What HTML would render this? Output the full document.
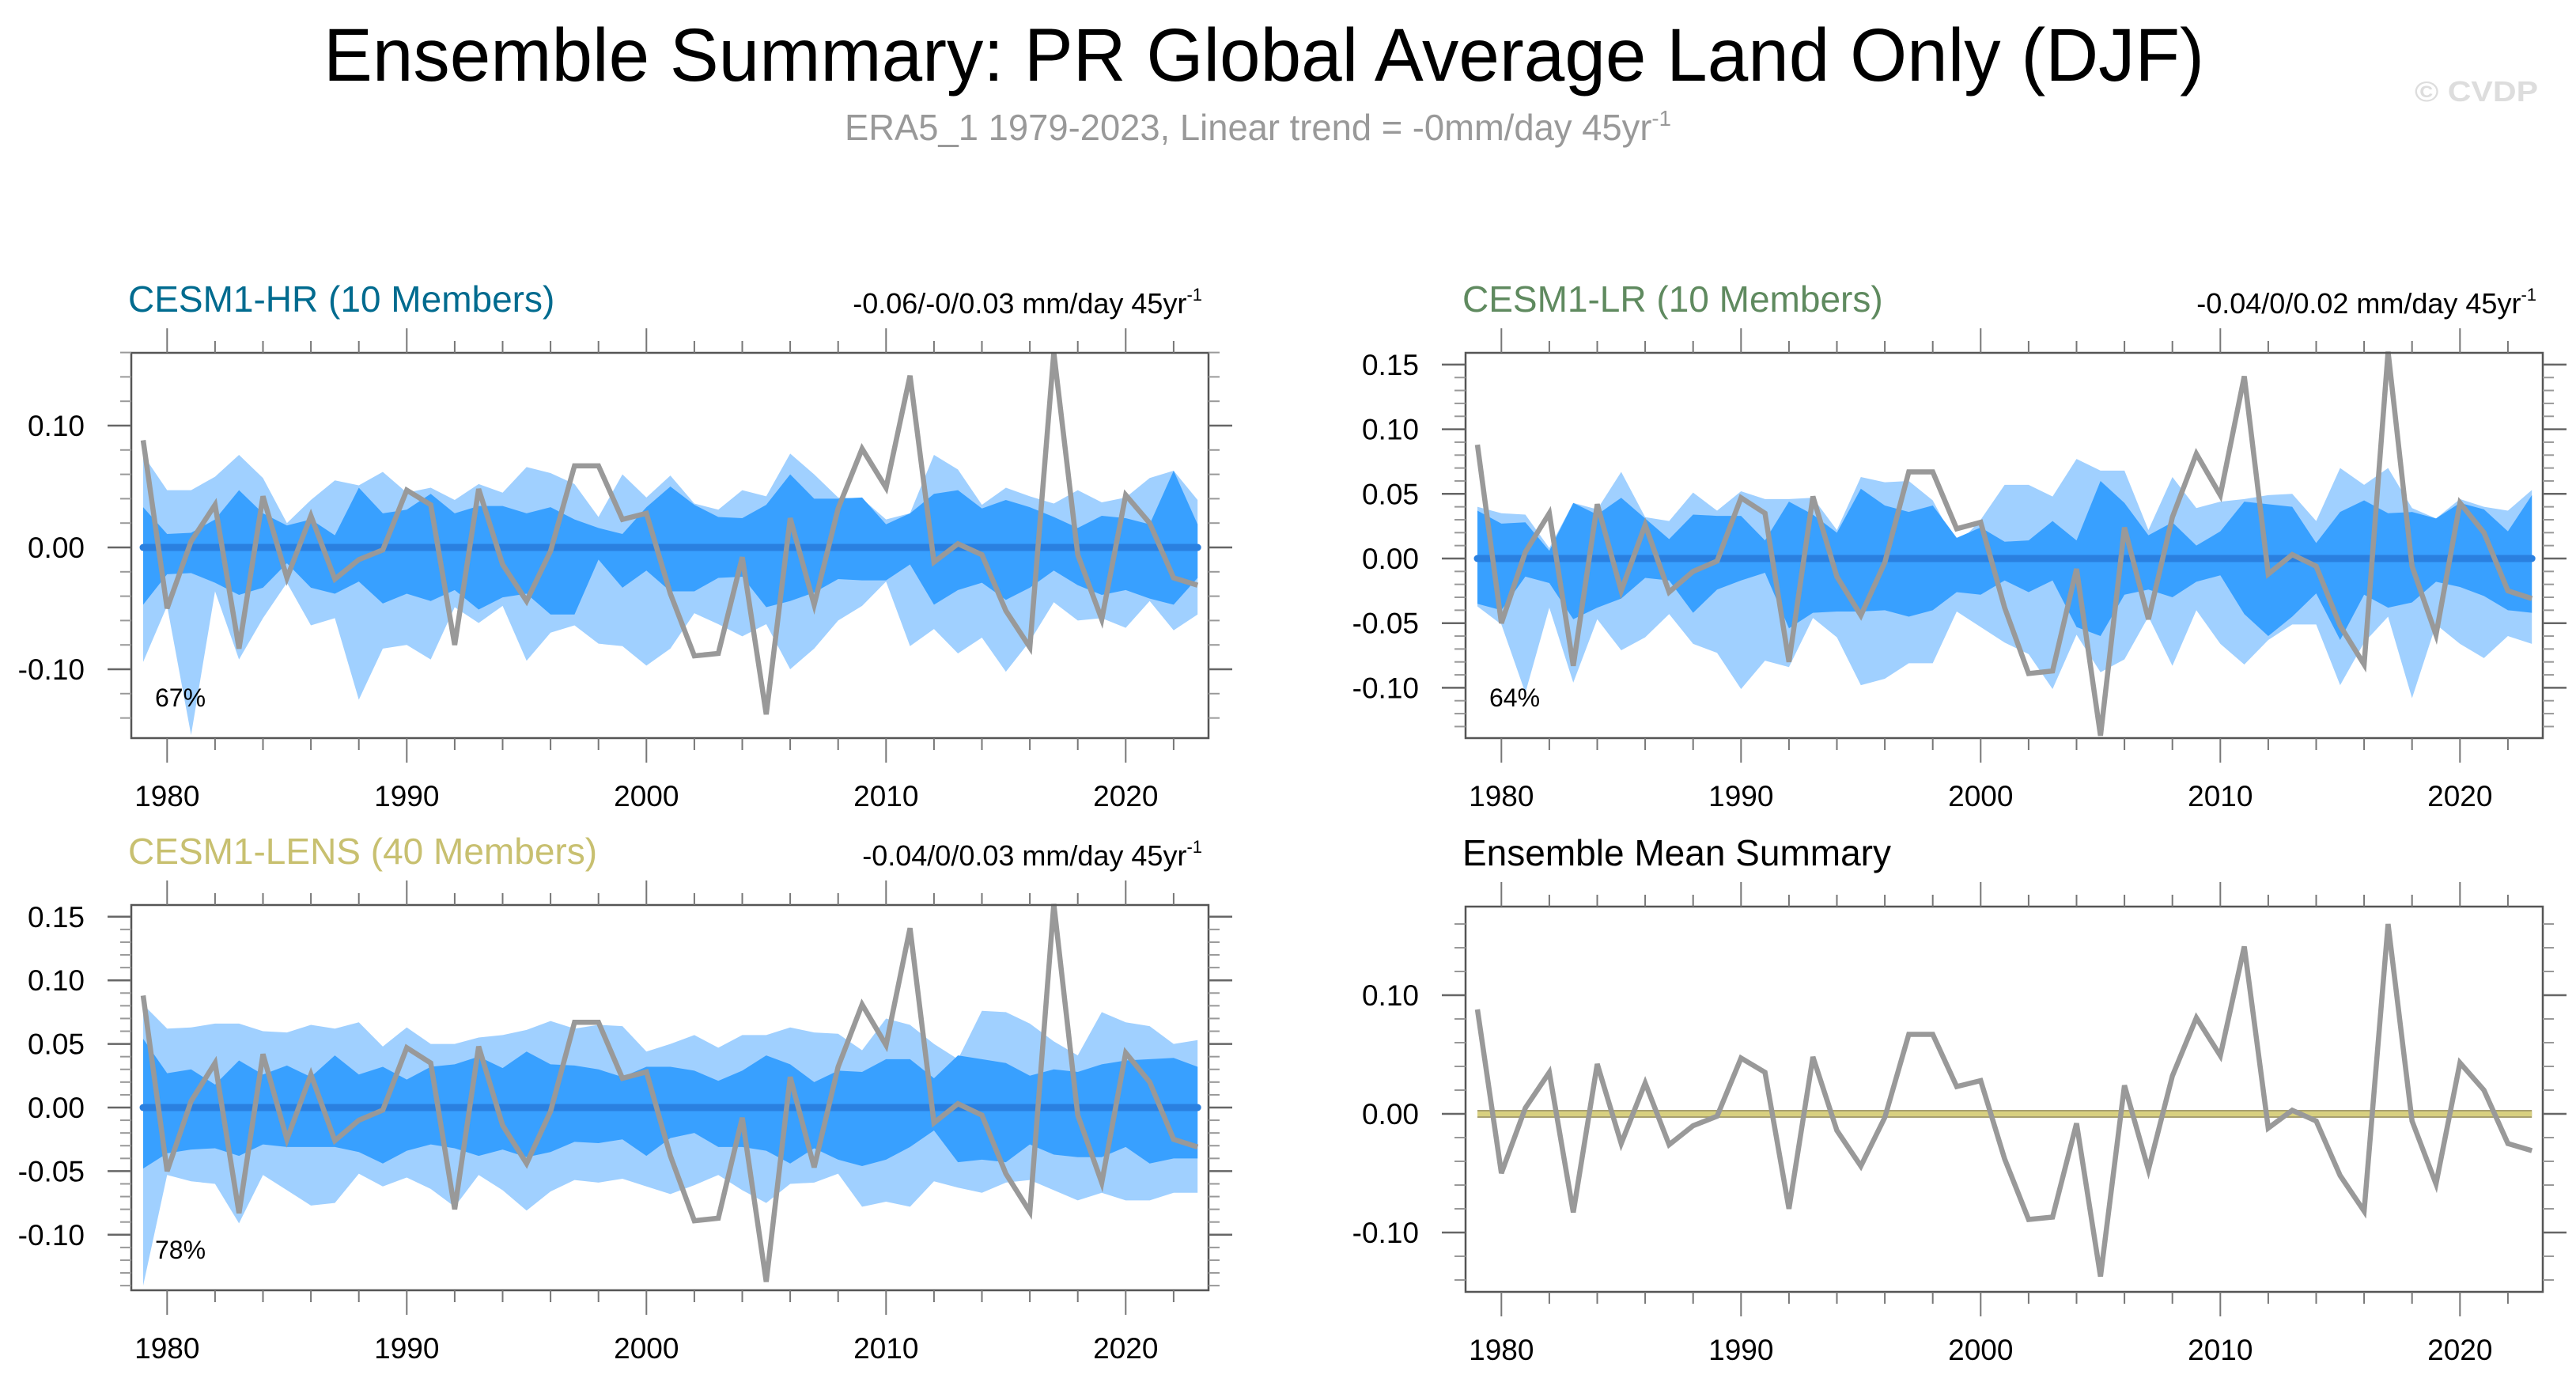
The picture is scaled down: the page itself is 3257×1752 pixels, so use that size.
<!DOCTYPE html>
<html><head><meta charset="utf-8"><style>
html,body{margin:0;padding:0;background:#fff;}
svg{display:block;font-family:"Liberation Sans",sans-serif;}
</style></head><body>
<svg id="chart" width="3257" height="1752" viewBox="0 0 3257 1752" xmlns="http://www.w3.org/2000/svg">
<rect width="3257" height="1752" fill="#fff"/>
<text x="1598" y="102" font-size="95" text-anchor="middle" textLength="2378" lengthAdjust="spacingAndGlyphs">Ensemble Summary: PR Global Average Land Only (DJF)</text>
<text x="1068" y="177" font-size="46" fill="#999" textLength="1045" lengthAdjust="spacingAndGlyphs">ERA5_1 1979-2023, Linear trend = -0mm/day 45yr<tspan dy="-18" font-size="28">-1</tspan></text>
<text x="3053" y="128" font-size="36" font-weight="bold" fill="#ddd" textLength="156" lengthAdjust="spacingAndGlyphs">© CVDP</text>
<g id="panels"></g>
</svg>
<script>
const years = [];
for (let y = 1979; y <= 2023; y++) years.push(y);
const obs = [0.088,-0.050,0.005,0.035,-0.083,0.042,-0.025,0.026,-0.026,-0.010,-0.002,0.047,0.035,-0.080,0.048,-0.014,-0.044,-0.003,0.067,0.067,0.023,0.028,-0.038,-0.089,-0.087,-0.008,-0.137,0.024,-0.047,0.032,0.081,0.049,0.141,-0.012,0.003,-0.006,-0.052,-0.082,0.160,-0.006,-0.059,0.043,0.020,-0.025,-0.031];
const hrLightUp = [0.076,0.047,0.047,0.058,0.076,0.057,0.020,0.039,0.055,0.051,0.062,0.045,0.049,0.039,0.052,0.045,0.066,0.061,0.052,0.025,0.060,0.041,0.059,0.036,0.031,0.047,0.042,0.077,0.060,0.041,0.040,0.023,0.028,0.076,0.064,0.035,0.049,0.042,0.036,0.047,0.037,0.041,0.057,0.063,0.039];
const hrDarkUp = [0.033,0.011,0.012,0.023,0.047,0.028,0.018,0.023,0.010,0.049,0.028,0.031,0.044,0.028,0.034,0.034,0.028,0.033,0.023,0.016,0.011,0.033,0.050,0.035,0.025,0.024,0.035,0.060,0.040,0.040,0.041,0.019,0.028,0.044,0.047,0.032,0.039,0.033,0.025,0.016,0.026,0.024,0.019,0.063,0.019];
const hrDarkLo = [-0.047,-0.022,-0.021,-0.029,-0.039,-0.033,-0.013,-0.033,-0.038,-0.028,-0.046,-0.038,-0.044,-0.035,-0.051,-0.041,-0.038,-0.055,-0.055,-0.010,-0.033,-0.019,-0.036,-0.036,-0.025,-0.024,-0.049,-0.044,-0.037,-0.026,-0.027,-0.027,-0.014,-0.047,-0.035,-0.029,-0.043,-0.033,-0.019,-0.031,-0.039,-0.035,-0.042,-0.047,-0.025];
const hrLightLo = [-0.094,-0.048,-0.154,-0.036,-0.092,-0.058,-0.029,-0.064,-0.058,-0.125,-0.083,-0.080,-0.092,-0.049,-0.062,-0.048,-0.093,-0.070,-0.064,-0.079,-0.081,-0.097,-0.083,-0.054,-0.063,-0.073,-0.063,-0.100,-0.083,-0.060,-0.048,-0.028,-0.081,-0.067,-0.087,-0.074,-0.102,-0.077,-0.045,-0.060,-0.058,-0.066,-0.044,-0.068,-0.055];
const lrLightUp = [0.040,0.035,0.034,0.008,0.043,0.038,0.067,0.032,0.029,0.051,0.037,0.052,0.046,0.046,0.047,0.022,0.063,0.059,0.060,0.045,0.010,0.030,0.057,0.057,0.048,0.077,0.068,0.068,0.022,0.063,0.039,0.044,0.046,0.049,0.050,0.029,0.070,0.057,0.070,0.039,0.031,0.046,0.040,0.037,0.053];
const lrDarkUp = [0.037,0.027,0.028,0.006,0.043,0.034,0.047,0.031,0.015,0.034,0.033,0.033,0.014,0.044,0.034,0.020,0.054,0.041,0.036,0.041,0.016,0.024,0.013,0.014,0.029,0.014,0.060,0.043,0.018,0.028,0.010,0.021,0.044,0.042,0.040,0.012,0.036,0.045,0.035,0.036,0.031,0.043,0.038,0.021,0.049];
const lrDarkLo = [-0.035,-0.040,-0.014,-0.019,-0.047,-0.038,-0.031,-0.015,-0.017,-0.042,-0.024,-0.017,-0.011,-0.054,-0.042,-0.041,-0.041,-0.040,-0.045,-0.040,-0.026,-0.028,-0.017,-0.026,-0.017,-0.053,-0.060,-0.028,-0.024,-0.030,-0.018,-0.013,-0.043,-0.060,-0.045,-0.027,-0.063,-0.028,-0.038,-0.034,-0.018,-0.022,-0.029,-0.040,-0.042];
const lrLightLo = [-0.037,-0.051,-0.104,-0.038,-0.096,-0.047,-0.071,-0.061,-0.043,-0.066,-0.073,-0.101,-0.079,-0.084,-0.046,-0.061,-0.098,-0.093,-0.081,-0.081,-0.041,-0.053,-0.065,-0.074,-0.101,-0.059,-0.088,-0.078,-0.045,-0.083,-0.040,-0.066,-0.082,-0.063,-0.051,-0.051,-0.098,-0.065,-0.045,-0.108,-0.051,-0.066,-0.077,-0.060,-0.066];
const lensLightUp = [0.081,0.062,0.063,0.066,0.066,0.060,0.059,0.065,0.062,0.067,0.048,0.063,0.050,0.050,0.055,0.057,0.061,0.068,0.062,0.065,0.064,0.044,0.050,0.057,0.047,0.057,0.057,0.063,0.059,0.058,0.045,0.070,0.065,0.050,0.038,0.076,0.075,0.066,0.052,0.041,0.075,0.067,0.064,0.050,0.053];
const lensDarkUp = [0.054,0.027,0.030,0.018,0.037,0.026,0.033,0.024,0.041,0.026,0.032,0.022,0.032,0.034,0.040,0.031,0.044,0.034,0.033,0.030,0.024,0.032,0.032,0.029,0.021,0.029,0.041,0.034,0.020,0.029,0.028,0.038,0.038,0.023,0.041,0.038,0.035,0.025,0.030,0.028,0.034,0.037,0.038,0.039,0.032];
const lensDarkLo = [-0.048,-0.036,-0.033,-0.032,-0.038,-0.029,-0.031,-0.031,-0.031,-0.035,-0.044,-0.034,-0.029,-0.032,-0.038,-0.033,-0.039,-0.035,-0.027,-0.028,-0.025,-0.038,-0.024,-0.020,-0.031,-0.031,-0.034,-0.044,-0.032,-0.041,-0.046,-0.041,-0.031,-0.018,-0.043,-0.041,-0.043,-0.029,-0.037,-0.039,-0.039,-0.031,-0.044,-0.040,-0.040];
const lensLightLo = [-0.140,-0.053,-0.058,-0.060,-0.091,-0.053,-0.065,-0.077,-0.075,-0.052,-0.062,-0.055,-0.064,-0.078,-0.053,-0.065,-0.081,-0.066,-0.057,-0.059,-0.056,-0.062,-0.068,-0.061,-0.053,-0.065,-0.075,-0.060,-0.059,-0.052,-0.078,-0.074,-0.078,-0.058,-0.063,-0.067,-0.059,-0.057,-0.065,-0.073,-0.067,-0.073,-0.073,-0.067,-0.067];
const ensMean = new Array(45).fill(0);
const xTickLabels = ["1980","1990","2000","2010","2020"];
const yTicksA = ["-0.10","0.00","0.10"];
const yTicksB = ["-0.10","-0.05","0.00","0.05","0.10","0.15"];

const NS = "http://www.w3.org/2000/svg";
const root = document.getElementById("panels");
function el(tag, attrs, parent) {
  const e = document.createElementNS(NS, tag);
  for (const k in attrs) e.setAttribute(k, attrs[k]);
  (parent || root).appendChild(e);
  return e;
}

function panel(p) {
  const g = el("g", {});
  
  
  const L = p.x0, R = p.x0 + 1362, T = p.top, B = p.top + 487;
  const xs = yr => L + 15 + (yr - 1979) * 30.3;
  const ys = v => p.zero - v * p.scale;
  function band(up, lo, fill, nm) {
    let d = "M" + years.map((yr, i) => xs(yr) + "," + ys(up[i])).join("L");
    for (let i = years.length - 1; i >= 0; i--) d += "L" + xs(years[i]) + "," + ys(lo[i]);
    const b = el("path", { d: d + "Z", fill: fill }, g);
    
    
  }
  if (p.bands) {
    band(p.bands[0], p.bands[3], "#a0d0ff", "spread-band-outer");
    band(p.bands[1], p.bands[2], "#38a0ff", "spread-band-inner");
    const z = el("line", { x1: xs(1979), x2: xs(2023), y1: ys(0), y2: ys(0), stroke: "#2a80e0", "stroke-width": 9, "stroke-linecap": "round" }, g);
    
    
  } else {
    const pts = years.map((yr, i) => xs(yr) + "," + ys(ensMean[i])).join(" ");
    const m1 = el("polyline", { points: pts, fill: "none", stroke: "#a8a070", "stroke-width": 10 }, g);
    
    
    el("polyline", { points: pts, fill: "none", stroke: "#d8d080", "stroke-width": 6 }, g);
  }
  const ob = el("polyline", { points: years.map((yr, i) => xs(yr) + "," + ys(obs[i])).join(" "), fill: "none", stroke: "#999", "stroke-width": 6.5, "stroke-linejoin": "miter" }, g);
  
  
  const fr = el("rect", { x: L, y: T, width: R - L, height: B - T, fill: "none", stroke: "#555", "stroke-width": 2.5 }, g);
  
  
  for (let yr = 1980; yr <= 2022; yr += 2) {
    const maj = yr % 10 === 0, len = maj ? 31 : 15;
    el("line", { x1: xs(yr), x2: xs(yr), y1: T, y2: T - len, stroke: "#777", "stroke-width": 2 }, g);
    el("line", { x1: xs(yr), x2: xs(yr), y1: B, y2: B + len, stroke: "#777", "stroke-width": 2 }, g);
  }
  xTickLabels.forEach(lbl => {
    const t = el("text", { x: xs(+lbl), y: B + 86, "font-size": 37, "text-anchor": "middle" }, g);
    t.textContent = lbl;
    
    
  });
  const step = p.minor;
  for (let v = Math.ceil(p.vmin / step) * step; v <= p.vmax + 1e-9; v += step) {
    const yy = ys(v);
    if (yy < T - 1 || yy > B + 1) continue;
    el("line", { x1: L, x2: L - 14, y1: yy, y2: yy, stroke: "#999", "stroke-width": 2 }, g);
    el("line", { x1: R, x2: R + 14, y1: yy, y2: yy, stroke: "#999", "stroke-width": 2 }, g);
  }
  p.yLabels.forEach(lbl => {
    const yy = ys(+lbl);
    el("line", { x1: L, x2: L - 30, y1: yy, y2: yy, stroke: "#666", "stroke-width": 2.5 }, g);
    el("line", { x1: R, x2: R + 30, y1: yy, y2: yy, stroke: "#666", "stroke-width": 2.5 }, g);
    const t = el("text", { x: L - 59, y: yy + 13, "font-size": 37, "text-anchor": "end" }, g);
    t.textContent = lbl;
    
    
  });
  const tt = el("text", { x: L - 4, y: T - 52, "font-size": 46, fill: p.color }, g);
  tt.textContent = p.title;
  
  
  if (p.trend) {
    const tr = el("text", { x: R - 8, y: T - 50, "font-size": 36, "text-anchor": "end" }, g);
    
    
    tr.appendChild(document.createTextNode(p.trend));
    const sp = el("tspan", { dy: -16, "font-size": 22 }, tr);
    sp.textContent = "-1";
  }
  if (p.pct) {
    const pc = el("text", { x: L + 30, y: B - 40, "font-size": 32 }, g);
    pc.textContent = p.pct;
    
    
  }
}

panel({ name: "panel-cesm1-hr", x0: 166, top: 446, zero: 692, scale: 1540, vmin: -0.16, vmax: 0.16, minor: 0.02, yLabels: yTicksA, title: "CESM1-HR (10 Members)", color: "#006b8f", trend: "-0.06/-0/0.03 mm/day 45yr", pct: "67%", bands: [hrLightUp, hrDarkUp, hrDarkLo, hrLightLo] });
panel({ name: "panel-cesm1-lr", x0: 1853, top: 446, zero: 706, scale: 1634, vmin: -0.14, vmax: 0.16, minor: 0.01, yLabels: yTicksB, title: "CESM1-LR (10 Members)", color: "#5f8a5f", trend: "-0.04/0/0.02 mm/day 45yr", pct: "64%", bands: [lrLightUp, lrDarkUp, lrDarkLo, lrLightLo] });
panel({ name: "panel-cesm1-lens", x0: 166, top: 1144, zero: 1400, scale: 1608, vmin: -0.15, vmax: 0.16, minor: 0.01, yLabels: yTicksB, title: "CESM1-LENS (40 Members)", color: "#c8c070", trend: "-0.04/0/0.03 mm/day 45yr", pct: "78%", bands: [lensLightUp, lensDarkUp, lensDarkLo, lensLightLo] });
panel({ name: "panel-ensemble-mean-summary", x0: 1853, top: 1146, zero: 1408, scale: 1500, vmin: -0.16, vmax: 0.18, minor: 0.02, yLabels: yTicksA, title: "Ensemble Mean Summary", color: "#000", trend: null, pct: null, bands: null });
</script>
</body></html>
